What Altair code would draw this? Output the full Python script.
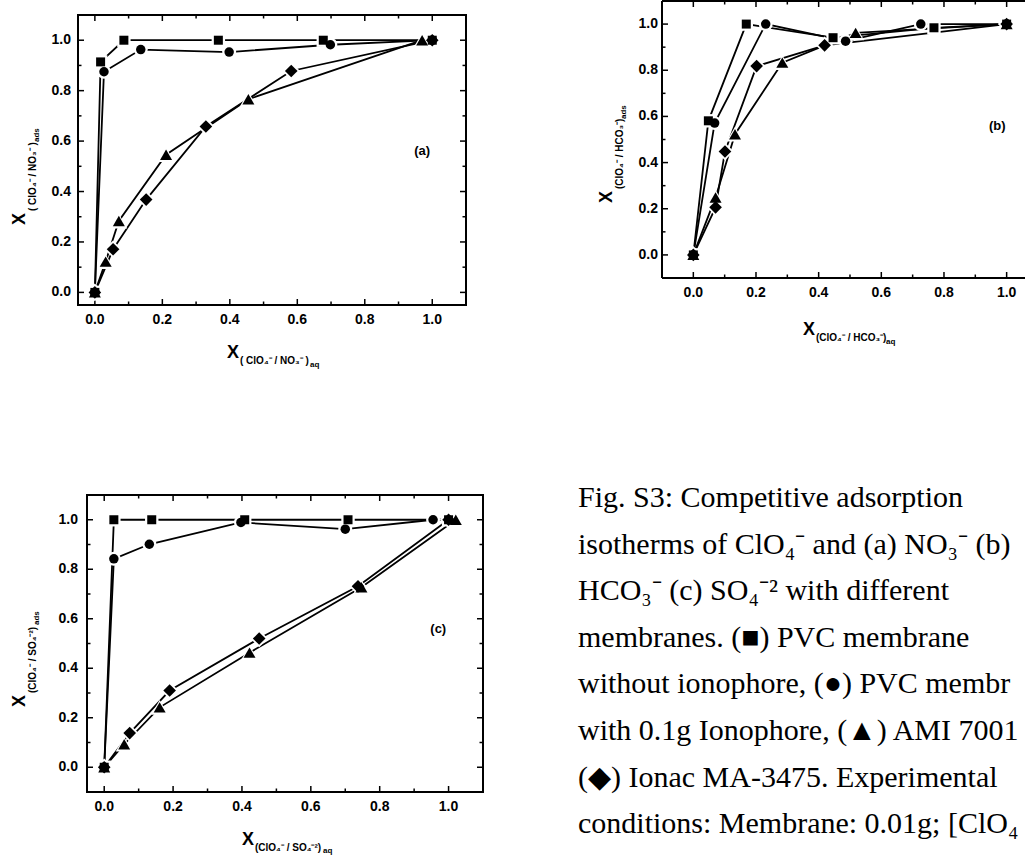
import altair as alt
import pandas as pd

# ---------------- data ----------------
# Panel (a): ClO4- / NO3-
a_sq_x = [0.0, 0.017, 0.086, 0.366, 0.677, 1.0]
a_sq_y = [0.0, 0.914, 1.0, 1.0, 1.0, 1.0]
a_ci_x = [0.0, 0.027, 0.136, 0.398, 0.698, 1.0]
a_ci_y = [0.0, 0.875, 0.963, 0.953, 0.982, 1.0]
a_tr_x = [0.0, 0.032, 0.071, 0.211, 0.455, 0.97]
a_tr_y = [0.0, 0.122, 0.283, 0.546, 0.766, 1.0]
a_di_x = [0.0, 0.054, 0.152, 0.329, 0.582, 1.0]
a_di_y = [0.0, 0.171, 0.368, 0.658, 0.878, 1.0]

# Panel (b): ClO4- / HCO3-
b_sq_x = [0.0, 0.048, 0.169, 0.446, 0.768, 1.0]
b_sq_y = [0.0, 0.581, 1.0, 0.941, 0.984, 1.0]
b_ci_x = [0.0, 0.068, 0.231, 0.486, 0.726, 1.0]
b_ci_y = [0.0, 0.571, 1.0, 0.926, 1.0, 1.0]
b_tr_x = [0.0, 0.071, 0.133, 0.284, 0.518, 1.0]
b_tr_y = [0.0, 0.249, 0.523, 0.833, 0.962, 1.0]
b_di_x = [0.0, 0.071, 0.101, 0.202, 0.419, 1.0]
b_di_y = [0.0, 0.206, 0.448, 0.818, 0.908, 1.0]

# Panel (c): ClO4- / SO4-2
c_sq_x = [0.0, 0.028, 0.138, 0.408, 0.708, 1.0]
c_sq_y = [0.0, 1.0, 1.0, 1.0, 1.0, 1.0]
c_ci_x = [0.0, 0.028, 0.131, 0.397, 0.700, 0.955]
c_ci_y = [0.0, 0.842, 0.901, 0.989, 0.962, 1.0]
c_tr_x = [0.0, 0.058, 0.161, 0.422, 0.747, 1.021]
c_tr_y = [0.0, 0.093, 0.242, 0.463, 0.727, 1.0]
c_di_x = [0.0, 0.074, 0.190, 0.450, 0.737, 1.0]
c_di_y = [0.0, 0.138, 0.310, 0.520, 0.731, 1.0]

series = ["square", "circle", "triangle", "diamond"]
tick_major = [0.0, 0.2, 0.4, 0.6, 0.8, 1.0]
tick_minor = [0.1, 0.3, 0.5, 0.7, 0.9]
tick_text = ["0.0", "0.2", "0.4", "0.6", "0.8", "1.0"]

caption_lines = [
    "Fig. S3: Competitive adsorption",
    "isotherms of ClO\u2084\u207b and (a) NO\u2083\u207b (b)",
    "HCO\u2083\u207b (c) SO\u2084\u207b\u00b2 with different",
    "membranes. (\u25a0) PVC membrane",
    "without ionophore, (\u25cf) PVC membr",
    "with 0.1g Ionophore, (\u25b2) AMI 7001",
    "(\u25c6) Ionac MA-3475. Experimental",
    "conditions: Membrane: 0.01g; [ClO\u2084",
]

a_sub = "( ClO\u2084\u207b / NO\u2083\u207b )"
b_sub = "(ClO\u2084\u207b / HCO\u2083\u207b)"
c_sub = "(ClO\u2084\u207b / SO\u2084\u207b\u00b2)"

# ---------------- styling ----------------
SANS = "Liberation Sans"
SERIF = "Liberation Serif"
SHAPES = ["square", "circle", "triangle-up", "diamond"]
SIZES = [81, 90, 144, 160]
HALOS = [180, 195, 290, 310]
LABEL_FS = 14
LW = 1.8

one = pd.DataFrame({"k": [0]})


def long_df(xs_list, ys_list):
    rows = []
    for s, xs, ys in zip(series, xs_list, ys_list):
        for i, (x, y) in enumerate(zip(xs, ys)):
            rows.append({"x": x, "y": y, "s": s, "o": i})
    return pd.DataFrame(rows)


def text_layer(txt, x, y, size, angle=0, font=SANS, weight="bold"):
    kw = dict(text=txt, font=font, fontSize=size, align="left",
              baseline="alphabetic", color="black")
    if weight:
        kw["fontWeight"] = weight
    if angle:
        kw["angle"] = angle
    return alt.Chart(one).mark_text(**kw).encode(x=alt.value(x), y=alt.value(y))


def panel(df, xdom, ydom, W, H, xrange, yrange, sides, xlab_y, ylab_x,
          letter, titles, extra=None, cap="square"):
    xs_kw = dict(domain=xdom, nice=False, zero=False)
    ys_kw = dict(domain=ydom, nice=False, zero=False)
    if xrange:
        xs_kw["range"] = xrange
    if yrange:
        ys_kw["range"] = yrange
    xsc = alt.Scale(**xs_kw)
    ysc = alt.Scale(**ys_kw)

    def X(f):
        return alt.X(f, scale=xsc, axis=None)

    def Y(f):
        return alt.Y(f, scale=ysc, axis=None)

    layers = []
    # frame
    fr = []
    if "bottom" in sides:
        fr.append({"x1": xdom[0], "x2": xdom[1], "y1": ydom[0], "y2": ydom[0]})
    if "top" in sides:
        fr.append({"x1": xdom[0], "x2": xdom[1], "y1": ydom[1], "y2": ydom[1]})
    if "left" in sides:
        fr.append({"x1": xdom[0], "x2": xdom[0], "y1": ydom[0], "y2": ydom[1]})
    if "right" in sides:
        fr.append({"x1": xdom[1], "x2": xdom[1], "y1": ydom[0], "y2": ydom[1]})
    layers.append(
        alt.Chart(pd.DataFrame(fr)).mark_rule(color="black", strokeWidth=2, strokeCap=cap).encode(
            x=X("x1:Q"), x2="x2:Q", y=Y("y1:Q"), y2="y2:Q")
    )
    # inward ticks
    for vals, L in ((tick_major, 6), (tick_minor, 3.5)):
        base = alt.Chart(pd.DataFrame({"v": vals}))
        if "bottom" in sides:
            layers.append(base.mark_rule(color="black", strokeWidth=1.5, y2Offset=-L).encode(
                x=X("v:Q"), y=alt.YDatum(ydom[0], scale=ysc, axis=None), y2=alt.Y2Datum(ydom[0])))
        if "top" in sides:
            layers.append(base.mark_rule(color="black", strokeWidth=1.5, y2Offset=L).encode(
                x=X("v:Q"), y=alt.YDatum(ydom[1], scale=ysc, axis=None), y2=alt.Y2Datum(ydom[1])))
        if "left" in sides:
            layers.append(base.mark_rule(color="black", strokeWidth=1.5, x2Offset=L).encode(
                y=Y("v:Q"), x=alt.XDatum(xdom[0], scale=xsc, axis=None), x2=alt.X2Datum(xdom[0])))
        if "right" in sides:
            layers.append(base.mark_rule(color="black", strokeWidth=1.5, x2Offset=-L).encode(
                y=Y("v:Q"), x=alt.XDatum(xdom[1], scale=xsc, axis=None), x2=alt.X2Datum(xdom[1])))
    # tick labels
    lab = alt.Chart(pd.DataFrame({"v": tick_major, "t": tick_text}))
    layers.append(lab.mark_text(font=SANS, fontWeight="bold", fontSize=LABEL_FS, color="black",
                                align="center", baseline="top").encode(
        x=X("v:Q"), y=alt.value(xlab_y), text="t:N"))
    layers.append(lab.mark_text(font=SANS, fontWeight="bold", fontSize=LABEL_FS, color="black",
                                align="right", baseline="middle").encode(
        y=Y("v:Q"), x=alt.value(ylab_x), text="t:N"))
    # connecting lines
    layers.append(
        alt.Chart(df).mark_line(color="black", strokeWidth=LW).encode(
            x=X("x:Q"), y=Y("y:Q"), detail="s:N", order="o:Q")
    )
    # white halos (gap between line and symbol), then black symbols
    for i, s in enumerate(series):
        sub = df[df.s == s]
        layers.append(alt.Chart(sub).mark_point(
            shape=SHAPES[i], size=HALOS[i], filled=True, color="white", opacity=1, strokeWidth=0
        ).encode(x=X("x:Q"), y=Y("y:Q")))
    for i, s in enumerate(series):
        sub = df[df.s == s]
        layers.append(alt.Chart(sub).mark_point(
            shape=SHAPES[i], size=SIZES[i], filled=True, color="black", opacity=1, strokeWidth=0
        ).encode(x=X("x:Q"), y=Y("y:Q")))
    # panel letter
    layers.append(alt.Chart(one).mark_text(
        text=letter, font=SANS, fontWeight="bold", fontSize=13, color="black",
        align="center", baseline="middle"
    ).encode(x=alt.XDatum(0.97, scale=xsc, axis=None), y=alt.YDatum(0.56, scale=ysc, axis=None)))
    # axis titles
    for t in titles:
        layers.append(text_layer(*t))
    if extra:
        layers.extend(extra)
    return alt.layer(*layers).properties(width=W, height=H)


# ---------------- panel (a) ----------------
dfa = long_df([a_sq_x, a_ci_x, a_tr_x, a_di_x], [a_sq_y, a_ci_y, a_tr_y, a_di_y])
a_titles = [
    ("X", 149, 357, 18), (a_sub, 162, 363, 10), ("aq", 232, 366, 8),
    ("X", -53, 224, 18, 270), (a_sub, -42, 210, 10, 270), ("ads", -39, 141, 8, 270),
]
anchor = alt.Chart(one).mark_rect(opacity=0).encode(
    x=alt.value(-78), x2=alt.value(-77), y=alt.value(-1), y2=alt.value(0))
pa = panel(dfa, [-0.05, 1.1], [-0.05, 1.1], 388, 304, None, [304, 14],
           ["bottom", "top", "left", "right"], 312, -7, "(a)", a_titles, extra=[anchor])

# ---------------- panel (b) ----------------
dfb = long_df([b_sq_x, b_ci_x, b_tr_x, b_di_x], [b_sq_y, b_ci_y, b_tr_y, b_di_y])
b_titles = [
    ("X", 141, 334, 18), (b_sub, 154, 340, 10), ("aq", 224, 343, 8),
    ("X", -50, 202, 18, 270), (b_sub, -39, 188, 10, 270), ("ads", -36, 118, 8, 270),
]
pb = panel(dfb, [-0.1, 1.0586], [-0.1, 1.1], 363, 277, None, None,
           ["bottom", "top", "left"], 285, -4, "(b)", b_titles, cap="butt")

# ---------------- panel (c) + caption ----------------
dfc = long_df([c_sq_x, c_ci_x, c_tr_x, c_di_x], [c_sq_y, c_ci_y, c_tr_y, c_di_y])
c_titles = [
    ("X", 164, 350, 18), (c_sub, 177, 356, 10), ("aq", 245, 358, 8),
    ("X", -53, 212, 18, 270), (c_sub, -42, 198, 10, 270), ("ads", -39, 130, 8, 270),
]
cap_layers = [
    text_layer(line, 500, 12 + 46.6 * i, 30, 0, SERIF, None)
    for i, line in enumerate(caption_lines)
]
pc = panel(dfc, [-0.05, 1.1], [-0.1, 1.1], 405, 297, [9, 405], None,
           ["bottom", "top", "left", "right"], 305, 0, "(c)", c_titles, extra=cap_layers)

chart = alt.ConcatChart(
    concat=[pa, pb, pc], columns=2,
    spacing={"row": 190, "column": 179}, bounds="flush", padding=0,
).configure_view(stroke=None)

chart.save("out.html", embed_options={"renderer": "svg", "actions": False})
